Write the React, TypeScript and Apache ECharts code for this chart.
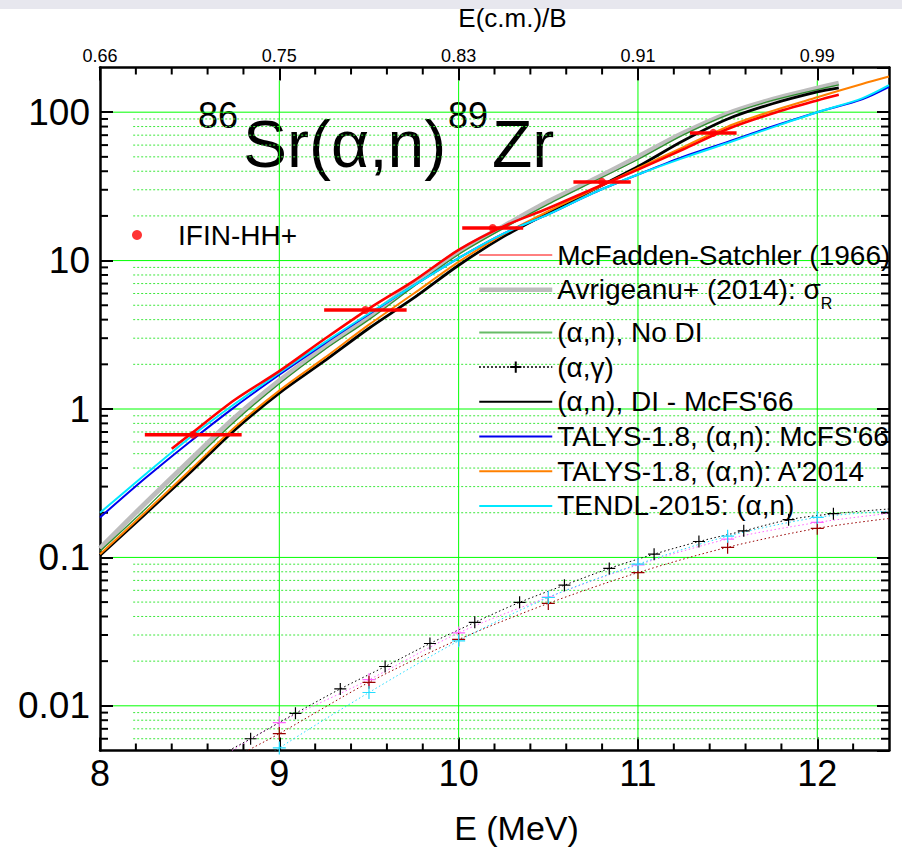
import React, { useEffect, useRef } from 'react';
import * as echarts from 'echarts';

const FONT = 'Arial, "Liberation Sans", Helvetica, sans-serif';

// ---- axes ----
const X_MIN = 8;
const X_MAX = 12.4;
const Y_MIN = 0.005;
const Y_MAX = 200;
const TOP_TICK_LABELS = ['0.66', '0.75', '0.83', '0.91', '0.99'];
const Y_MAJOR = [0.01, 0.1, 1, 10, 100];
const X_MAJOR_GRID = [9, 10, 11, 12];

// ---- (alpha,n) model curves ----
const E_MAIN = [8.0, 8.25, 8.5, 8.75, 9.0, 9.25, 9.5, 9.75, 10.0, 10.25, 10.5, 10.75, 11.0, 11.25, 11.5, 11.75, 12.0, 12.12];
const SIGMA_R = [0.115, 0.23, 0.45, 0.87, 1.55, 2.6, 4.2, 7.0, 11.5, 17, 25, 35, 50, 72, 98, 122, 145, 157];
const NO_DI = [0.11, 0.21, 0.42, 0.82, 1.48, 2.5, 4.0, 6.7, 11.0, 16.5, 24, 34, 48, 70, 96, 120, 142, 153];
const DI_MCFS = [0.103, 0.195, 0.37, 0.72, 1.28, 2.1, 3.5, 5.6, 9.3, 14.5, 21, 30, 43, 64, 90, 114, 137, 146];

const E_EXT = [8.0, 8.25, 8.5, 8.75, 9.0, 9.25, 9.5, 9.75, 10.0, 10.25, 10.5, 10.75, 11.0, 11.25, 11.5, 11.75, 12.0, 12.25, 12.4];
const TALYS_MCFS = [0.186, 0.34, 0.6, 1.03, 1.7, 2.75, 4.35, 6.8, 10.4, 15.2, 20.5, 28.5, 38, 50, 63, 80, 100, 122, 148];
const TALYS_A2014 = [0.105, 0.2, 0.385, 0.75, 1.33, 2.2, 3.7, 6.0, 9.8, 15, 21.5, 30, 42, 58, 80, 102, 126, 155, 174];
const TENDL = [0.2, 0.36, 0.64, 1.08, 1.75, 2.8, 4.4, 6.8, 10.4, 15.2, 20.5, 28.5, 38, 49, 62, 79, 100, 124, 152];

const E_MCFADDEN = [8.4, 8.5, 8.75, 9.0, 9.25, 9.5, 9.75, 10.0, 10.25, 10.5, 10.75, 11.0, 11.25, 11.5, 11.75, 12.0, 12.12];
const MCFADDEN = [0.54, 0.67, 1.15, 1.8, 2.95, 4.75, 7.3, 11.8, 17, 22.5, 30.5, 41, 56, 77, 98, 120, 131];

// ---- (alpha,gamma) curves ----
const E_AG = [8.84, 9.09, 9.34, 9.59, 9.84, 10.09, 10.34, 10.59, 10.84, 11.09, 11.34, 11.59, 11.84, 12.09];
const AG_BLACK = [0.006, 0.0089, 0.013, 0.0184, 0.0263, 0.0365, 0.0498, 0.065, 0.0843, 0.1052, 0.128, 0.151, 0.1795, 0.197];
const AG_BLACK_TAIL_E = [8.6, 12.4];
const AG_BLACK_TAIL = [0.0042, 0.212];

const E_AG2 = [9.0, 9.5, 10.0, 10.5, 11.0, 11.5, 12.0];
const AG_PINK = [0.0077, 0.015, 0.031, 0.054, 0.089, 0.133, 0.172];
const AG_PINK_TAIL_E = [8.7, 12.4];
const AG_PINK_TAIL = [0.0047, 0.198];
const AG_CYAN = [0.0052, 0.0123, 0.0274, 0.0537, 0.09, 0.139, 0.186];
const AG_CYAN_TAIL_E = [8.9, 12.4];
const AG_CYAN_TAIL = [0.0042, 0.205];
const AG_MAROON = [0.0065, 0.0144, 0.028, 0.049, 0.079, 0.117, 0.157];
const AG_MAROON_TAIL_E = [8.75, 12.4];
const AG_MAROON_TAIL = [0.0045, 0.183];

// ---- IFIN-HH+ data ----
const EXP_E = [8.52, 9.48, 10.19, 10.8, 11.42];
const EXP_SIGMA = [0.67, 4.65, 16.6, 33.9, 72.5];
const EXP_DE = [0.27, 0.23, 0.17, 0.16, 0.13];

// ---- names ----
const N_MCF = 'McFadden-Satchler (1966)';
const N_AVR = 'Avrigeanu+ (2014): σR';
const N_NODI = '(α,n), No DI';
const N_AG = '(α,γ)';
const N_DI = "(α,n), DI - McFS'66";
const N_TMC = "TALYS-1.8, (α,n): McFS'66";
const N_TA = "TALYS-1.8, (α,n): A'2014";
const N_TENDL = 'TENDL-2015: (α,n)';
const N_EXP = 'IFIN-HH+';

const PLUS = 'path://M0,6L12,6M6,0L6,12';
const GREEN = '#00ff00';
const MINOR_GRID_FROM = 8.185;

const pairs = (xs: number[], ys: number[]) => xs.map((x, i) => [x, ys[i]]);

function withTails(xs: number[], ys: number[], tx: number[], ty: number[]) {
  return [
    { value: [tx[0], ty[0]], symbol: 'none' },
    ...xs.map((x, i) => ({ value: [x, ys[i]] })),
    { value: [tx[1], ty[1]], symbol: 'none' },
  ];
}

function buildOption() {
  const yMinor: number[] = [];
  for (let d = -3; d <= 2; d++) {
    for (let m = 2; m <= 9; m++) {
      const v = m * Math.pow(10, d);
      if (v > Y_MIN * 1.0001 && v < Y_MAX * 0.9999) yMinor.push(+v.toPrecision(3));
    }
  }
  const xMinor: number[] = [];
  for (let k = 1; k < 22; k++) {
    if (k % 5 !== 0) xMinor.push(+(X_MIN + k * 0.2).toFixed(2));
  }
  const frameData = [
    ...yMinor.map((v) => [X_MIN, v, 0]),
    ...Y_MAJOR.map((v) => [X_MIN, v, 1]),
    ...X_MAJOR_GRID.map((v) => [v, Y_MIN, 2]),
    ...xMinor.map((v) => [v, Y_MIN, 3]),
  ];

  const axisLineStyle = { show: true, onZero: false, lineStyle: { color: '#000', width: 2.5 } };
  const tickStyle = { show: true, inside: true, length: 13, lineStyle: { color: '#000', width: 2 } };

  const lineSeries = (name: string, xs: number[], ys: number[], color: string, width: number, z = 2) => ({
    name,
    type: 'line',
    data: pairs(xs, ys),
    smooth: 0.3,
    symbol: 'none',
    showSymbol: false,
    lineStyle: { color, width },
    itemStyle: { color },
    z,
    clip: true,
  });

  const agSeries = (name: string, data: any[], color: string, size: number) => ({
    name,
    type: 'line',
    data,
    smooth: 0.3,
    symbol: PLUS,
    symbolSize: size,
    showSymbol: true,
    lineStyle: { color, width: 1, type: [1.5, 2.5] },
    itemStyle: { color, borderColor: color, borderWidth: 1.2 },
    z: 2,
    clip: true,
  });

  const textStyleLegend = { fontSize: 28, fontFamily: FONT, color: '#000' };

  return {
    animation: false,
    backgroundColor: '#ffffff',
    textStyle: { fontFamily: FONT },
    grid: { left: 100, top: 67.5, right: 13, bottom: 99.5, containLabel: false, outerBoundsMode: 'none' },
    xAxis: [
      {
        type: 'value', position: 'bottom', min: X_MIN, max: X_MAX, interval: 1,
        axisLine: axisLineStyle, axisTick: tickStyle,
        axisLabel: { fontSize: 36, fontFamily: FONT, color: '#000', margin: 5, showMaxLabel: false },
        splitLine: { show: false },
        name: 'E (MeV)', nameLocation: 'middle', nameGap: 60,
        nameTextStyle: { fontSize: 34, fontFamily: FONT, color: '#000', padding: [0, 0, 0, 44] },
      },
      {
        type: 'value', position: 'top', min: X_MIN, max: X_MAX, interval: 1,
        axisLine: axisLineStyle, axisTick: tickStyle,
        axisLabel: {
          fontSize: 18, fontFamily: FONT, color: '#000', margin: 3, showMaxLabel: false,
          formatter: (v: number) => TOP_TICK_LABELS[Math.round(v - X_MIN)] ?? '',
        },
        splitLine: { show: false },
        name: 'E(c.m.)/B', nameLocation: 'middle', nameGap: 37,
        nameTextStyle: { fontSize: 26, fontFamily: FONT, color: '#000', padding: [0, 0, 0, 36] },
      },
    ],
    yAxis: [
      {
        type: 'log', logBase: 10, position: 'left', min: Y_MIN, max: Y_MAX,
        axisLine: axisLineStyle, axisTick: tickStyle,
        axisLabel: { fontSize: 37, fontFamily: FONT, color: '#000', margin: 10, showMinLabel: false, showMaxLabel: false },
        splitLine: { show: false },
      },
      {
        type: 'log', logBase: 10, position: 'right', min: Y_MIN, max: Y_MAX,
        axisLine: axisLineStyle, axisTick: { ...tickStyle, length: 12 },
        axisLabel: { show: false },
        splitLine: { show: false },
      },
    ],
    legend: [
      {
        data: [{ name: N_EXP, icon: 'circle' }],
        left: 132, top: 221, orient: 'vertical', padding: 0,
        itemWidth: 10, itemHeight: 10, selectedMode: false,
        textStyle: { ...textStyleLegend, padding: [0, 0, 0, 31] },
      },
      {
        data: [
          { name: N_MCF, itemStyle: { opacity: 0 }, lineStyle: { width: 1 } },
          { name: N_AVR, itemStyle: { opacity: 0 }, lineStyle: { width: 4.5 } },
          { name: N_NODI, itemStyle: { opacity: 0 }, lineStyle: { color: '#66bb66', width: 2 } },
          { name: N_AG },
          { name: N_DI, itemStyle: { opacity: 0 } },
          { name: N_TMC, itemStyle: { opacity: 0 } },
          { name: N_TA, itemStyle: { opacity: 0 } },
          { name: N_TENDL, itemStyle: { opacity: 0 } },
        ],
        left: 477, top: 241, orient: 'vertical', padding: 0, itemGap: 6.7,
        itemWidth: 73, itemHeight: 14, selectedMode: false,
        textStyle: {
          ...textStyleLegend,
          rich: {
            m: { fontSize: 28, fontFamily: FONT, color: '#000', lineHeight: 28, verticalAlign: 'top' },
            s: { fontSize: 16, fontFamily: FONT, color: '#000', lineHeight: 16, verticalAlign: 'top', padding: [20, 0, 0, 0] },
          },
        },
        formatter: (name: string) => (name === N_AVR ? '{m|Avrigeanu+ (2014): σ}{s|R}' : name),
      },
    ],
    graphic: [
      { type: 'rect', shape: { x: 0, y: 0, width: 902, height: 9 }, style: { fill: '#e7e7ee' }, silent: true, z: -10 },
      { type: 'text', x: 198, y: 115, silent: true, style: { text: '86', fontSize: 36, fontFamily: FONT, fill: '#000', align: 'left', verticalAlign: 'middle', textAlign: 'left', textVerticalAlign: 'middle' } },
      { type: 'text', x: 243, y: 144, silent: true, style: { text: 'Sr(α,n)', fontSize: 66, fontFamily: FONT, fill: '#000', align: 'left', verticalAlign: 'middle', textAlign: 'left', textVerticalAlign: 'middle' } },
      { type: 'text', x: 448, y: 115, silent: true, style: { text: '89', fontSize: 36, fontFamily: FONT, fill: '#000', align: 'left', verticalAlign: 'middle', textAlign: 'left', textVerticalAlign: 'middle' } },
      { type: 'text', x: 492, y: 144, silent: true, style: { text: 'Zr', fontSize: 66, fontFamily: FONT, fill: '#000', align: 'left', verticalAlign: 'middle', textAlign: 'left', textVerticalAlign: 'middle' } },
    ],
    series: [
      {
        name: 'frame',
        type: 'custom',
        coordinateSystem: 'cartesian2d',
        xAxisIndex: 0, yAxisIndex: 0,
        dimensions: ['x', 'y', 'k'],
        encode: { x: 0, y: 1 },
        data: frameData,
        silent: true,
        clip: false,
        z: 1,
        renderItem: (params: any, api: any) => {
          const cs = params.coordSys;
          const x0 = cs.x, x1 = cs.x + cs.width, y0 = cs.y, y1 = cs.y + cs.height;
          const kind = api.value(2);
          if (kind === 0 || kind === 1) {
            const v = api.value(1);
            const y = api.coord([X_MIN, v])[1];
            if (kind === 0) {
              const gx = api.coord([MINOR_GRID_FROM, v])[0];
              return {
                type: 'group',
                children: [
                  { type: 'line', shape: { x1: gx, y1: y, x2: x1 - 9, y2: y }, style: { stroke: '#3ce83c', lineWidth: 1, lineDash: [2, 2] } },
                  { type: 'line', shape: { x1: x0, y1: y, x2: x0 + 8, y2: y }, style: { stroke: '#000', lineWidth: 2 } },
                  { type: 'line', shape: { x1: x1 - 8, y1: y, x2: x1, y2: y }, style: { stroke: '#000', lineWidth: 2 } },
                ],
              };
            }
            return { type: 'line', shape: { x1: x0 + 13, y1: y, x2: x1 - 12, y2: y }, style: { stroke: GREEN, lineWidth: 1 } };
          }
          const x = api.coord([api.value(0), Y_MIN])[0];
          if (kind === 2) {
            return { type: 'line', shape: { x1: x, y1: y0 + 13, x2: x, y2: y1 - 13 }, style: { stroke: GREEN, lineWidth: 1 } };
          }
          return {
            type: 'group',
            children: [
              { type: 'line', shape: { x1: x, y1: y1, x2: x, y2: y1 - 7 }, style: { stroke: '#000', lineWidth: 2 } },
              { type: 'line', shape: { x1: x, y1: y0, x2: x, y2: y0 + 7 }, style: { stroke: '#000', lineWidth: 2 } },
            ],
          };
        },
      },
      lineSeries(N_AVR, E_MAIN, SIGMA_R, '#bdbdbd', 5),
      lineSeries(N_NODI, E_MAIN, NO_DI, '#2f8f2f', 1.3),
      lineSeries(N_DI, E_MAIN, DI_MCFS, '#000000', 2.8),
      lineSeries(N_TA, E_EXT, TALYS_A2014, '#ff8000', 2),
      lineSeries(N_TMC, E_EXT, TALYS_MCFS, '#0000ee', 2),
      lineSeries(N_TENDL, E_EXT, TENDL, '#00e8ff', 2),
      lineSeries(N_MCF, E_MCFADDEN, MCFADDEN, '#ff0000', 2.6),
      agSeries('(α,γ) pink', withTails(E_AG2, AG_PINK, AG_PINK_TAIL_E, AG_PINK_TAIL), '#ff66ff', 13),
      agSeries('(α,γ) maroon', withTails(E_AG2, AG_MAROON, AG_MAROON_TAIL_E, AG_MAROON_TAIL), '#990000', 13),
      agSeries('(α,γ) cyan', withTails(E_AG2, AG_CYAN, AG_CYAN_TAIL_E, AG_CYAN_TAIL), '#22ddff', 13),
      agSeries(N_AG, withTails(E_AG, AG_BLACK, AG_BLACK_TAIL_E, AG_BLACK_TAIL), '#000000', 12),
      {
        name: 'IFIN-HH+ error',
        type: 'custom',
        coordinateSystem: 'cartesian2d',
        dimensions: ['x', 'y', 'dx'],
        encode: { x: 0, y: 1 },
        data: EXP_E.map((e, i) => [e, EXP_SIGMA[i], EXP_DE[i]]),
        z: 3,
        silent: true,
        renderItem: (params: any, api: any) => {
          const e = api.value(0), v = api.value(1), d = api.value(2);
          const l = api.coord([e - d, v]);
          const r = api.coord([e + d, v]);
          return { type: 'line', shape: { x1: l[0], y1: l[1], x2: r[0], y2: r[1] }, style: { stroke: '#ff0000', lineWidth: 3.5 } };
        },
      },
      {
        name: N_EXP,
        type: 'scatter',
        data: pairs(EXP_E, EXP_SIGMA),
        symbol: 'circle',
        symbolSize: 8,
        itemStyle: { color: '#ff0000' },
        z: 4,
      },
    ],
  };
}

export default function App() {
  const ref = useRef<HTMLDivElement>(null);
  useEffect(() => {
    document.body.style.margin = '0';
    const chart = echarts.init(ref.current as HTMLDivElement, null, { renderer: 'svg' });
    chart.setOption(buildOption() as any);
    return () => chart.dispose();
  }, []);
  return (
    <div
      ref={ref}
      style={{ position: 'absolute', left: 0, top: 0, width: 902, height: 850, background: '#fff' }}
    />
  );
}
